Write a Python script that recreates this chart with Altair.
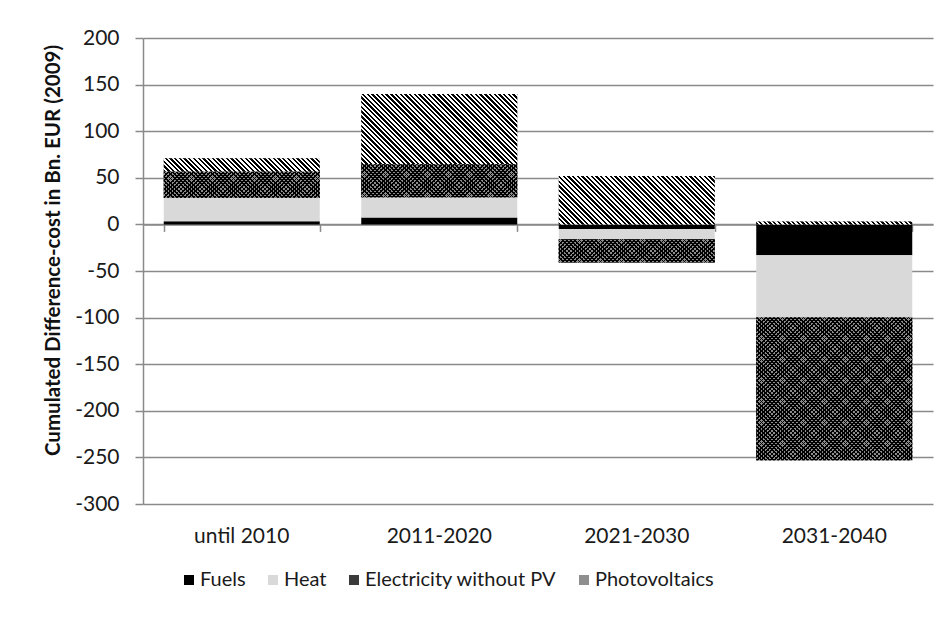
import altair as alt
import pandas as pd

periods = ["until 2010", "2011-2020", "2021-2030", "2031-2040"]
series = ["Fuels", "Heat", "Electricity without PV", "Photovoltaics"]
fuels = [3.5, 7.5, -5, -33]
heat = [25, 21.5, -11, -67]
electricity = [28, 35.5, -25, -153]
photovoltaics = [14.5, 75.5, 52, 3]
y_ticks = [200, 150, 100, 50, 0, -50, -100, -150, -200, -250, -300]
colors = ["#000000", "#d9d9d9", "#3a3a3a", "#8f8f8f"]

series_values = [fuels, heat, electricity, photovoltaics]
rows = []
for i, p in enumerate(periods):
    for j, (s, vals) in enumerate(zip(series, series_values)):
        rows.append({"period": p, "series": s, "value": vals[i], "order": j})
df = pd.DataFrame(rows)

W, H = 790, 466
BAR_W = 156
FONT = "Lato"
GRID = "#8a8a8a"
TXT = "#1a1a1a"
PX_PER_UNIT = H / 500.0
zero_offset = -(H * 300 / 500)

xscale = alt.Scale(domain=periods, paddingInner=0.21, paddingOuter=0.105)
yscale = alt.Scale(domain=[-300, 200], nice=False)


def stripes(w, h, period, frac, c_on, c_off, direction):
    """Sharp-stop linear gradient giving 45 degree stripes inside a w x h box."""
    h = max(h, 1.0)
    r = h / w
    a = (1 + r) / (1 + r * r)
    if direction == "back":
        x1, y1, x2, y2 = 0.0, 1.0, a, 1 - a * r
    else:
        x1, y1, x2, y2 = 0.0, 0.0, a, a * r
    n = (w + h) / period
    stops = []
    k = 0
    while k < n:
        s = k / n
        m = min((k + frac) / n, 1.0)
        e = min((k + 1) / n, 1.0)
        stops += [alt.GradientStop(offset=s, color=c_on),
                  alt.GradientStop(offset=m, color=c_on),
                  alt.GradientStop(offset=m, color=c_off),
                  alt.GradientStop(offset=e, color=c_off)]
        k += 1
    return alt.LinearGradient(gradient="linear", stops=stops,
                              x1=x1, y1=y1, x2=x2, y2=y2)


base = alt.Chart(df).transform_stack(
    stack="value", groupby=["period"], as_=["v0", "v1"],
    sort=[alt.SortField("order", order="ascending")], offset="zero",
)

x_main = alt.X("period:N", sort=periods, scale=xscale,
               axis=alt.Axis(title=None, orient="bottom", domain=False, ticks=False,
                             labelFontSize=21, labelFont=FONT, labelColor=TXT,
                             labelPadding=21, labelAngle=0))
x_plain = alt.X("period:N", sort=periods, scale=xscale, axis=None)

bars = base.mark_bar(size=BAR_W).encode(
    x=x_main,
    y=alt.Y("v0:Q", scale=yscale,
            axis=alt.Axis(title="Cumulated Difference-cost in Bn. EUR (2009)",
                          values=y_ticks, labelExpr="'' + datum.value",
                          labelFontSize=21, labelFont=FONT,
                          labelColor=TXT, labelPadding=16, tickSize=8, tickColor=GRID,
                          tickWidth=1.5, domainColor=GRID, domainWidth=1.5,
                          grid=True, gridColor=GRID, gridWidth=1.5,
                          titleFont=FONT, titleFontSize=20.5, titleFontWeight="bold",
                          titleColor="#111", titleX=-80, titleY=212)),
    y2="v1:Q",
    color=alt.Color("series:N", sort=series,
                    scale=alt.Scale(domain=series, range=colors),
                    legend=alt.Legend(title=None, orient="none", direction="horizontal",
                                      legendX=36, legendY=532, symbolType="square",
                                      symbolSize=100, symbolStrokeWidth=0,
                                      labelFontSize=20, labelFont=FONT, labelColor=TXT,
                                      labelLimit=400, columnPadding=17, labelOffset=1)),
)

overlays = []
for i, p in enumerate(periods):
    # photovoltaics: diagonal black/white stripes
    h_pv = abs(photovoltaics[i]) * PX_PER_UNIT
    g_pv = stripes(BAR_W, h_pv, 4.7, 0.5, "#000000", "#ffffff", "back")
    # electricity: cross-hatch
    h_el = abs(electricity[i]) * PX_PER_UNIT
    g_el1 = stripes(BAR_W, h_el, 4.2, 0.42, "#000000", "#8c8c8c", "back")
    g_el2 = stripes(BAR_W, h_el, 4.2, 0.42, "#000000", "rgba(0,0,0,0)", "fwd")
    for s, grads in (("Photovoltaics", [g_pv]), ("Electricity without PV", [g_el1, g_el2])):
        for g in grads:
            overlays.append(
                base.transform_filter(
                    (alt.datum.series == s) & (alt.datum.period == p)
                ).mark_bar(size=BAR_W, fill=g).encode(
                    x=x_plain,
                    y=alt.Y("v0:Q", scale=yscale, axis=None),
                    y2="v1:Q",
                )
            )

zero_axis = alt.Chart(df).mark_point(opacity=0).encode(
    x=alt.X("period:N", sort=periods, scale=xscale,
            axis=alt.Axis(title=None, orient="bottom", offset=zero_offset, labels=False,
                          domainColor=GRID, domainWidth=1.5, tickColor=GRID, tickWidth=1.5,
                          tickSize=7, tickBand="extent", grid=False)),
    y=alt.datum(0, scale=yscale, axis=None),
)

chart = alt.layer(zero_axis, bars, *overlays).resolve_axis(
    x="independent", y="independent"
).properties(
    width=W, height=H,
    padding={"left": 135, "top": 30, "right": 10, "bottom": 100},
    autosize=alt.AutoSizeParams(type="none"),
).configure_view(stroke=None)

chart.save("out.html", embed_options={"renderer": "svg", "actions": False})
